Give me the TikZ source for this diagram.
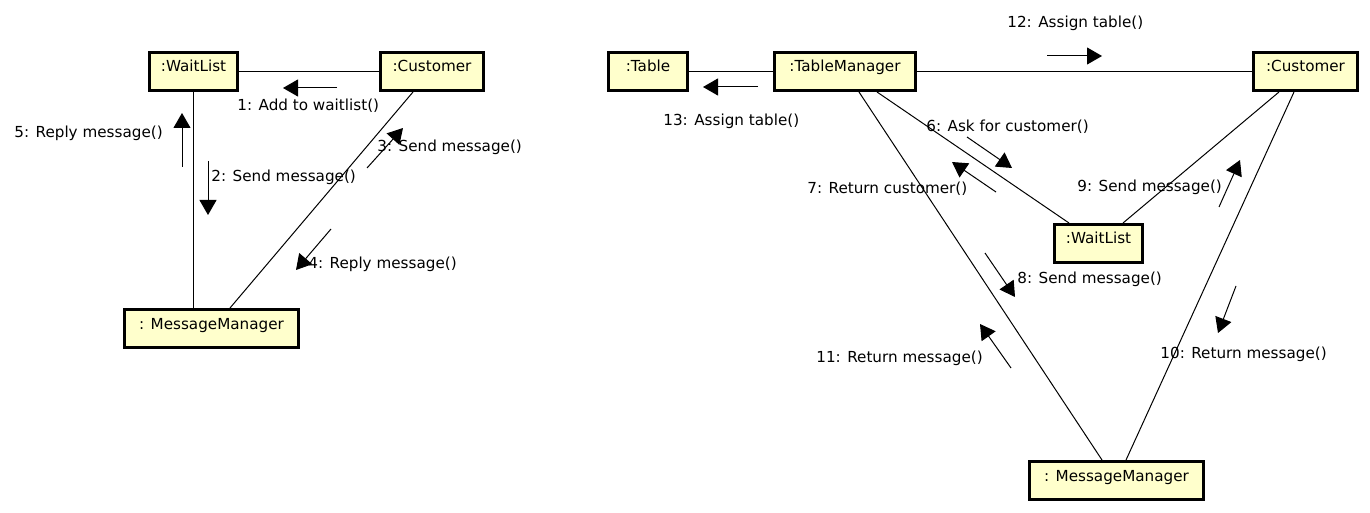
\documentclass[tikz,border=0pt]{standalone}
\usepackage{fontspec}
\setmainfont{DejaVu Sans}
\usetikzlibrary{shapes,arrows,arrows.meta,positioning}

\definecolor{objyellow}{RGB}{255,255,204}

\begin{document}
\begin{tikzpicture}[x=0.5pt, y=-0.5pt,
    font=\fontsize{7.6}{9}\selectfont,
    obj/.style={rectangle, draw, line width=1.5pt, fill=objyellow, inner sep=0pt,
                minimum height=19pt, text height=9.75pt, text depth=9.25pt},
    link/.style={line width=0.5pt},
    msg/.style={line width=0.5pt, -{Triangle[length=7.5pt, width=8.5pt]}},
    lbl/.style={anchor=west, inner sep=0pt}]
    \fill[white] (0,0) rectangle (1370,513);
    \useasboundingbox (0,0) rectangle (1370,513);

    % Left diagram: objects
    \node[obj, minimum width=44pt] (wl) at (193.5,71.5) {:WaitList};
    \node[obj, minimum width=51.5pt] (cu) at (432,71.5) {:Customer};
    \node[obj, minimum width=87pt] (mm) at (211.5,328.5) {: MessageManager};

    % Left diagram: links
    \draw[link] (wl) -- (cu);
    \draw[link] (wl.south) -- (wl.south |- mm.north);
    \draw[link] ([xshift=-9.5pt]cu.south) -- ([xshift=9.25pt]mm.north);

    % Left diagram: messages
    \draw[msg] (337,88) -- (283,88);
    \node[lbl] (m1) at (237,106) {1: Add to waitlist()};
    \draw[msg] (208,161) -- (208,215);
    \node[lbl] (m2) at (211,177) {2: Send message()};
    \draw[msg] (367,168) -- (403,128);
    \node[lbl] (m3) at (377,147) {3: Send message()};
    \draw[msg] (331,229) -- (296,270);
    \node[lbl] (m4) at (308,264) {4: Reply message()};
    \draw[msg] (182,167) -- (182,113);
    \node[lbl] (m5) at (14,133) {5: Reply message()};

    % Right diagram: objects
    \node[obj, minimum width=39.5pt] (tb) at (648,71.5) {:Table};
    \node[obj, minimum width=70.5pt] (tm) at (845,71.5) {:TableManager};
    \node[obj, minimum width=52pt] (cr) at (1305.5,71.5) {:Customer};
    \node[obj, minimum width=44pt] (wr) at (1098.5,243.5) {:WaitList};
    \node[obj, minimum width=87pt] (mr) at (1116.5,480.5) {: MessageManager};

    % Right diagram: links
    \draw[link] (tb) -- (tm);
    \draw[link] (tm) -- (cr);
    \draw[link] ([xshift=16pt]tm.south) -- ([xshift=-14.75pt]wr.north);
    \draw[link] ([xshift=7pt]tm.south) -- ([xshift=-7.25pt]mr.north);
    \draw[link] ([xshift=-13.25pt]cr.south) -- ([xshift=12.25pt]wr.north);
    \draw[link] ([xshift=-5.75pt]cr.south) -- ([xshift=4.75pt]mr.north);

    % Right diagram: messages
    \draw[msg] (967,137) -- (1012,168);
    \node[lbl] (m6) at (926,127) {6: Ask for customer()};
    \draw[msg] (996,192) -- (952,162);
    \node[lbl] (m7) at (807,189) {7: Return customer()};
    \draw[msg] (985,253) -- (1015,297);
    \node[lbl] (m8) at (1017,279) {8: Send message()};
    \draw[msg] (1219,207) -- (1240,160);
    \node[lbl] (m9) at (1077,187) {9: Send message()};
    \draw[msg] (1236,286) -- (1218,333);
    \node[lbl] (m10) at (1160,354) {10: Return message()};
    \draw[msg] (1011,368) -- (980,324);
    \node[lbl] (m11) at (816,358) {11: Return message()};
    \draw[msg] (1047,56) -- (1102,56);
    \node[lbl] (m12) at (1007,23) {12: Assign table()};
    \draw[msg] (758,87) -- (703,87);
    \node[lbl] (m13) at (663,121) {13: Assign table()};
\end{tikzpicture}
\end{document}
